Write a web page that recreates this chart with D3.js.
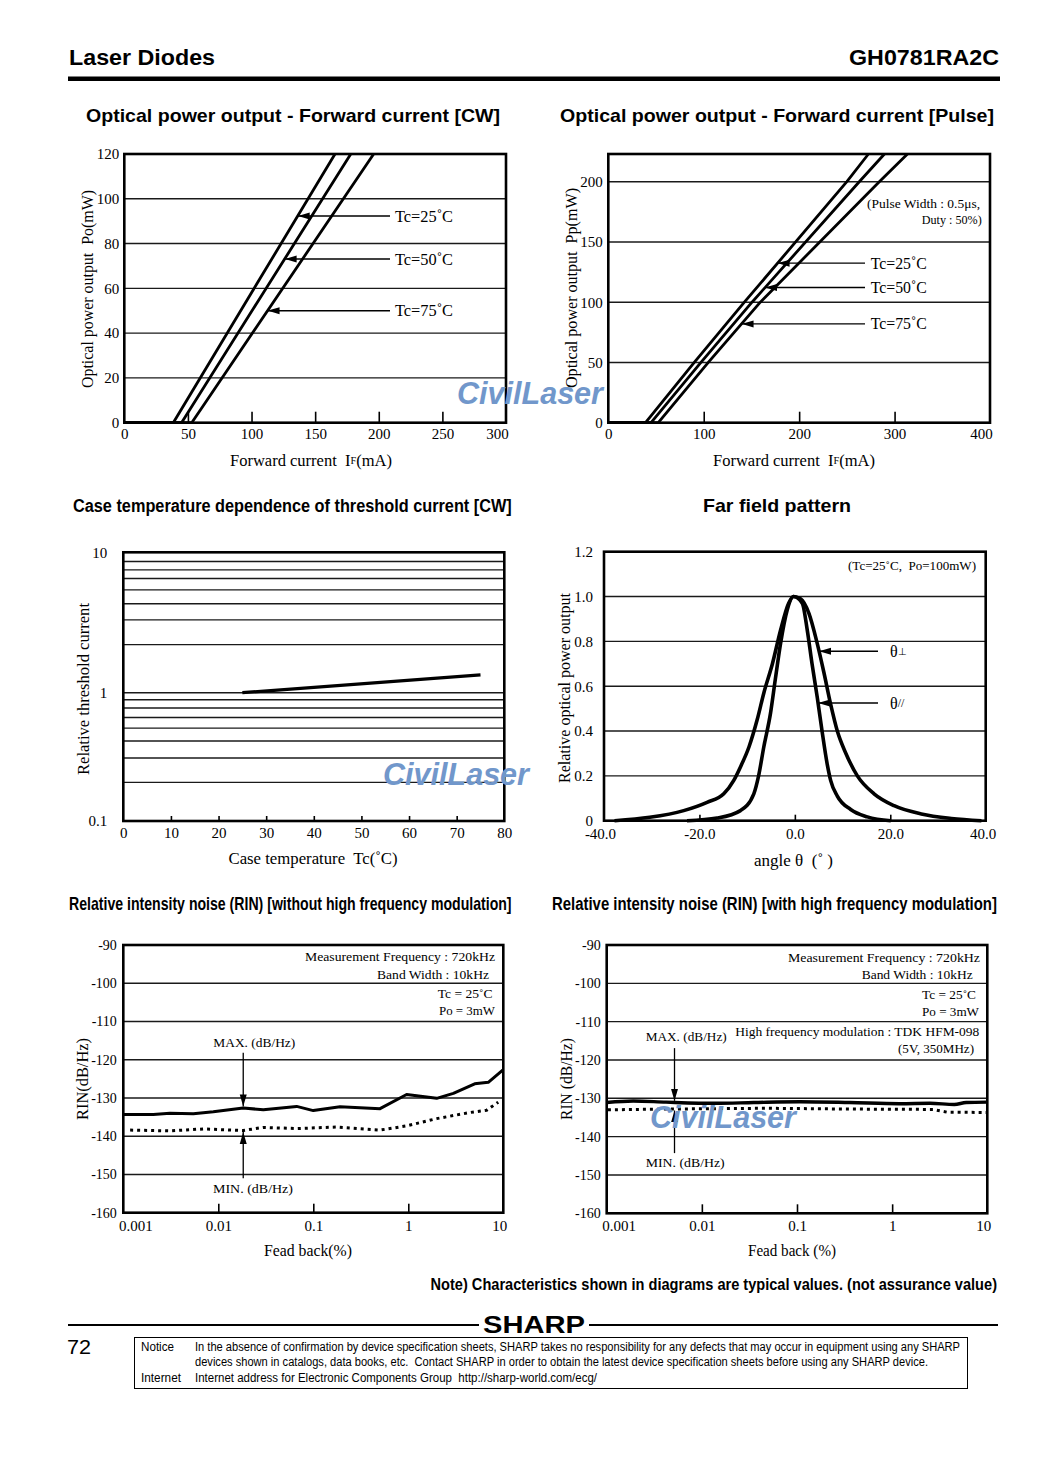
<!DOCTYPE html>
<html><head><meta charset="utf-8">
<script src="https://cdn.jsdelivr.net/npm/d3@7"></script>
<style>body{margin:0;background:#fff}svg{display:block}</style>
</head><body>
<script>
// ================= DATA =================
// Chart 1: Optical power output - Forward current [CW]
const cwCurrentTicks = [0, 50, 100, 150, 200, 250, 300];
const cwPowerTicks = [0, 20, 40, 60, 80, 100, 120];
const cwGrid = [20, 40, 60, 80, 100];
const cwLabels = ["Tc=25˚C", "Tc=50˚C", "Tc=75˚C"];
const cwIf25 = [0, 38.5, 165.6];
const cwIf50 = [0, 45, 178];
const cwIf75 = [0, 53, 196];
const cwPo = [0, 0, 120];
const cwLabelPo = [92.3, 73.1, 50.0];

// Chart 2: Optical power output - Forward current [Pulse]
const pulseCurrentTicks = [0, 100, 200, 300, 400];
const pulsePowerTicks = [0, 50, 100, 150, 200];
const pulseGrid = [50, 100, 150, 200];
const pulseLabels = ["Tc=25˚C", "Tc=50˚C", "Tc=75˚C"];
const pulseIf25 = [0, 39, 90.1, 142.6, 250, 272.6];
const pulseIf50 = [0, 44.8, 97.1, 150.6, 263, 289.4];
const pulseIf75 = [0, 52.4, 104.8, 159.3, 284, 313.5];
const pulsePo = [0, 0, 50, 100, 200, 223];
const pulseLabelPo = [132.4, 112.2, 82];

// Chart 3: Case temperature dependence of threshold current [CW]
const tempTicks = [0, 10, 20, 30, 40, 50, 60, 70, 80];
const thresholdTicks = [0.1, 1, 10];
const thresholdGrid = [0.2, 0.31, 0.42, 0.53, 0.64, 0.76, 0.88, 1, 2.2, 3.3, 4.3, 5.4, 6.5, 7.5, 8.6];
const caseTemp = [25, 75];
const relThreshold = [1.0, 1.34];

// Chart 4: Far field pattern
const angleTicks = [-40, -20, 0, 20, 40];
const relPowerTicks = [0, 0.2, 0.4, 0.6, 0.8, 1.0, 1.2];
const farGrid = [0.2, 0.4, 0.6, 0.8, 1.0];
const perpAngle = [-37.8, -30.4, -23.3, -18.4, -14.9, -12.8, -11.4, -9.6, -7.9, -6.5, -4.7, -3.0, -1.3, -0.3, 1.2, 2.95, 4.7, 6.1, 7.5, 8.9, 10.7, 13.1, 16.6, 20.8, 26.5, 32.8, 39.1];
const perpPower = [0, 0.015, 0.045, 0.082, 0.12, 0.18, 0.24, 0.33, 0.45, 0.57, 0.70, 0.85, 0.97, 1.0, 0.99, 0.925, 0.79, 0.66, 0.52, 0.40, 0.30, 0.20, 0.12, 0.067, 0.03, 0.01, 0];
const parAngle = [-22.6, -16.3, -11.4, -8.6, -7.6, -6.5, -5.1, -4.1, -3.0, -1.6, -0.3, 1.55, 2.6, 3.6, 4.7, 5.7, 6.8, 7.5, 8.9, 11.7, 15.2, 20.1];
const parPower = [0, 0.012, 0.045, 0.12, 0.20, 0.33, 0.48, 0.63, 0.79, 0.94, 1.0, 0.97, 0.85, 0.70, 0.55, 0.40, 0.25, 0.18, 0.11, 0.05, 0.017, 0];
const farLabelPower = [0.756, 0.525];

// Chart 5: RIN without HF modulation
const feedbackTicks = [0.001, 0.01, 0.1, 1, 10];
const rinTicks = [-160, -150, -140, -130, -120, -110, -100, -90];
const rinGrid = [-150, -140, -130, -120, -110, -100];
const noHfMaxFb = [0.001, 0.00207, 0.0031, 0.00546, 0.00886, 0.0183, 0.0298, 0.0668, 0.1, 0.191, 0.504, 0.96, 1.99, 2.98, 5.0, 6.95, 10];
const noHfMax = [-134.3, -134.3, -134.0, -134.1, -133.6, -132.6, -133.1, -132.2, -133.3, -132.3, -132.8, -129.1, -130.1, -128.8, -126.3, -125.9, -122.6];
const noHfMinFb = [0.00118, 0.0031, 0.00695, 0.0183, 0.0298, 0.0668, 0.176, 0.504, 0.96, 1.99, 4.46, 6.68, 8.85];
const noHfMin = [-138.4, -138.6, -138.1, -138.5, -137.7, -138.0, -137.6, -138.4, -137.3, -135.4, -133.8, -133.2, -131.1];
const noHfArrowFb = 0.0183;

// Chart 6: RIN with HF modulation
const hfMaxFb = [0.001, 0.0019, 0.0042, 0.0141, 0.035, 0.107, 0.357, 1.2, 2.5, 4.5, 6, 10];
const hfMax = [-131.1, -130.7, -131.0, -131.3, -131.1, -130.9, -131.1, -131.4, -131.3, -131.6, -131.1, -131.0];
const hfMinFb = [0.00103, 0.0042, 0.048, 0.357, 2.7, 3.74, 9.08, 10];
const hfMin = [-133.0, -132.8, -132.6, -132.8, -132.9, -133.6, -133.7, -133.7];
const hfArrowFb = 0.00516;

// ================= DRAWING =================
const SERIF = "'Liberation Serif','Times New Roman',serif";
const SANS = "'Liberation Sans',Arial,Helvetica,sans-serif";
const NARROW = "'Liberation Sans Narrow','Arial Narrow','Liberation Sans',Arial,sans-serif";
const svg = d3.select("body").append("svg").attr("width", 1061).attr("height", 1458);
svg.append("rect").attr("width", 1061).attr("height", 1458).attr("fill", "#fff");
svg.append("defs").append("marker").attr("id", "ah")
  .attr("viewBox", "0 -4 12 8").attr("refX", 12).attr("refY", 0)
  .attr("markerWidth", 12).attr("markerHeight", 8).attr("markerUnits", "userSpaceOnUse")
  .attr("orient", "auto").append("path").attr("d", "M0,-3.5L12,0L0,3.5Z").attr("fill", "#000");

function txt(p, x, y, s, o = {}) {
  const t = p.append("text").attr("x", x).attr("y", y)
    .attr("font-family", o.ff || SERIF).attr("font-size", o.fs || 15)
    .attr("text-anchor", o.anchor || "start").attr("fill", o.fill || "#000")
    .style("white-space", "pre");
  if (o.bold) t.attr("font-weight", o.bold);
  if (o.italic) t.attr("font-style", "italic");
  if (o.central) t.attr("dominant-baseline", "central");
  if (o.rot) t.attr("transform", `rotate(-90,${x},${y})`);
  if (Array.isArray(s)) s.forEach(([str, fs]) => t.append("tspan").attr("font-size", fs || null).text(str));
  else t.text(s);
  if (o.squeeze && o.len) {
    // condensed text: shrink font so its natural width fits, then stretch vertically back
    t.attr("x", 0).attr("y", 0);
    const w = t.node().getComputedTextLength();
    const fs = o.fs || 15;
    if (w > o.len) {
      const nfs = fs * o.len / w;
      t.attr("font-size", nfs).attr("transform", `translate(${x},${y}) scale(1,${fs / nfs})`);
    } else {
      t.attr("transform", `translate(${x},${y})`)
        .attr("textLength", o.len).attr("lengthAdjust", "spacingAndGlyphs");
    }
  } else if (o.len) t.attr("textLength", o.len).attr("lengthAdjust", "spacingAndGlyphs");
  return t;
}

function frame(g, P) {
  g.append("rect").attr("x", P.l).attr("y", P.t).attr("width", P.r - P.l).attr("height", P.b - P.t)
    .attr("fill", "none").attr("stroke", "#000").attr("stroke-width", 2.6);
}
function hgrid(g, P, y, vals) {
  g.append("g").selectAll("line").data(vals).join("line")
    .attr("x1", P.l).attr("x2", P.r).attr("y1", d => y(d)).attr("y2", d => y(d))
    .attr("stroke", "#1a1a1a").attr("stroke-width", 1.4);
}
function bottomAxis(g, P, x, vals, tickLen, pad, fmt, shifts) {
  const a = g.append("g").attr("transform", `translate(0,${P.b})`)
    .call(d3.axisBottom(x).tickValues(vals).tickSizeInner(-tickLen).tickSizeOuter(0).tickPadding(pad).tickFormat(fmt));
  a.select(".domain").remove();
  a.attr("font-family", null).attr("font-size", null);
  a.selectAll(".tick line").attr("stroke", "#000").attr("stroke-width", 1.6);
  a.selectAll(".tick line").filter((d, i, n) => i === 0 || i === n.length - 1).remove();
  a.selectAll(".tick text").attr("font-family", SERIF).attr("font-size", 15).attr("fill", "#000")
    .attr("dx", (d, i) => (shifts && shifts[i]) || 0);
  return a;
}
function leftAxis(g, P, y, vals, pad, fmt, fs) {
  const a = g.append("g").attr("transform", `translate(${P.l},0)`)
    .call(d3.axisLeft(y).tickValues(vals).tickSize(0).tickPadding(pad).tickFormat(fmt));
  a.select(".domain").remove();
  a.attr("font-family", null).attr("font-size", null);
  a.selectAll(".tick text").attr("font-family", SERIF).attr("font-size", fs || 15).attr("fill", "#000");
  return a;
}
function curve(g, xs, ys, x, y, w, dash, cur) {
  const line = d3.line().x(d => x(d[0])).y(d => y(d[1])).curve(cur || d3.curveLinear);
  const p = g.append("path").attr("d", line(d3.zip(xs, ys))).attr("fill", "none")
    .attr("stroke", "#000").attr("stroke-width", w).attr("stroke-linejoin", "round");
  if (dash) p.attr("stroke-dasharray", dash).attr("stroke-linecap", "butt");
  return p;
}
function arrow(g, x1, y1, x2, y2) {
  g.append("line").attr("x1", x1).attr("y1", y1).attr("x2", x2).attr("y2", y2)
    .attr("stroke", "#000").attr("stroke-width", 1.3).attr("marker-end", "url(#ah)");
}
const fmtPlain = d => String(d);

// ---------- Header ----------
txt(svg, 69, 65, "Laser Diodes", { ff: SANS, fs: 22, bold: 700, len: 146 });
txt(svg, 999, 65, "GH0781RA2C", { ff: SANS, fs: 22, bold: 700, anchor: "end", len: 150 });
svg.append("rect").attr("x", 68).attr("y", 76.5).attr("width", 932).attr("height", 4.5).attr("fill", "#000");

// titles
txt(svg, 86, 122, "Optical power output - Forward current [CW]", { ff: SANS, fs: 19, bold: 700, len: 414 });
txt(svg, 560, 122, "Optical power output - Forward current [Pulse]", { ff: SANS, fs: 19, bold: 700, len: 434 });
txt(svg, 73, 512, "Case temperature dependence of threshold current [CW]", { ff: NARROW, fs: 19, bold: 700, len: 439, squeeze: true });
txt(svg, 703, 512, "Far field pattern", { ff: SANS, fs: 19, bold: 700, len: 148 });
txt(svg, 69, 910, "Relative intensity noise (RIN) [without high frequency modulation]", { ff: NARROW, fs: 19, bold: 700, len: 443, squeeze: true });
txt(svg, 552, 910, "Relative intensity noise (RIN) [with high frequency modulation]", { ff: NARROW, fs: 19, bold: 700, len: 445, squeeze: true });

// ---------- Chart 1 ----------
{
  const P = { l: 124.3, r: 506, t: 154, b: 422.7 };
  const g = svg.append("g");
  const x = d3.scaleLinear().domain([0, 300]).range([P.l, P.r]);
  const y = d3.scaleLinear().domain([0, 120]).range([P.b, P.t]);
  hgrid(g, P, y, cwGrid);
  bottomAxis(g, P, x, cwCurrentTicks, 11, 6, fmtPlain, { 6: -9 });
  leftAxis(g, P, y, cwPowerTicks, 5, fmtPlain);
  [cwIf25, cwIf50, cwIf75].forEach(ifs => curve(g, ifs, cwPo, x, y, 2.8));
  frame(g, P);
  [cwIf25, cwIf50, cwIf75].forEach((ifs, i) => {
    const inv = d3.scaleLinear().domain(cwPo.slice(1)).range(ifs.slice(1));
    const yy = y(cwLabelPo[i]);
    arrow(g, 390, yy, x(inv(cwLabelPo[i])), yy);
    txt(g, 395, yy, cwLabels[i], { fs: 16, central: true, len: 58 });
  });
  txt(g, 311, 460, [["Forward current  I"], ["F", 10], ["(mA)"]], { fs: 16, anchor: "middle", central: true, len: 162 });
  txt(g, 87, 289, "Optical power output  Po(mW)", { fs: 16, anchor: "middle", central: true, rot: true, len: 198 });
}

// ---------- Chart 2 ----------
{
  const P = { l: 608.3, r: 990, t: 154, b: 422.7 };
  const g = svg.append("g");
  const x = d3.scaleLinear().domain([0, 400]).range([P.l, P.r]);
  const y = d3.scaleLinear().domain([0, 223]).range([P.b, P.t]);
  hgrid(g, P, y, pulseGrid);
  bottomAxis(g, P, x, pulseCurrentTicks, 11, 6, fmtPlain, { 4: -9 });
  leftAxis(g, P, y, pulsePowerTicks, 5.5, fmtPlain);
  [pulseIf25, pulseIf50, pulseIf75].forEach(ifs => curve(g, ifs, pulsePo, x, y, 2.8));
  frame(g, P);
  [pulseIf25, pulseIf50, pulseIf75].forEach((ifs, i) => {
    const inv = d3.scaleLinear().domain(pulsePo.slice(1)).range(ifs.slice(1));
    const yy = y(pulseLabelPo[i]);
    arrow(g, 865, yy, x(inv(pulseLabelPo[i])), yy);
    txt(g, 870.7, yy, pulseLabels[i], { fs: 16, central: true, len: 56 });
  });
  txt(g, 980, 203, "(Pulse Width : 0.5μs,", { fs: 13.5, anchor: "end", central: true, len: 113 });
  txt(g, 981.7, 219, "Duty : 50%)", { fs: 13.5, anchor: "end", central: true, len: 60 });
  txt(g, 794, 460, [["Forward current  I"], ["F", 10], ["(mA)"]], { fs: 16, anchor: "middle", central: true, len: 162 });
  txt(g, 571.7, 288, "Optical power output  Pp(mW)", { fs: 16, anchor: "middle", central: true, rot: true, len: 200 });
}

// ---------- Chart 3 ----------
{
  const P = { l: 123.3, r: 504.3, t: 552.3, b: 821 };
  const g = svg.append("g");
  const x = d3.scaleLinear().domain([0, 80]).range([P.l, P.r]);
  const y = d3.scaleLog().domain([0.1, 1, 10]).range([P.b, 692.7, P.t]);
  hgrid(g, P, y, thresholdGrid);
  bottomAxis(g, P, x, tempTicks, 5, 6.5, fmtPlain);
  leftAxis(g, P, y, thresholdTicks, 16, fmtPlain);
  curve(g, caseTemp, relThreshold, x, y, 3.2);
  frame(g, P);
  txt(g, 313, 858, "Case temperature  Tc(˚C)", { fs: 16, anchor: "middle", central: true, len: 169 });
  txt(g, 83, 689, "Relative threshold current", { fs: 16, anchor: "middle", central: true, rot: true, len: 172 });
}

// ---------- Chart 4 ----------
{
  const P = { l: 604, r: 985.7, t: 551.7, b: 820.7 };
  const g = svg.append("g");
  const x = d3.scaleLinear().domain([-40, 40]).range([P.l, P.r]);
  const y = d3.scaleLinear().domain([0, 1.2]).range([P.b, P.t]);
  hgrid(g, P, y, farGrid);
  bottomAxis(g, P, x, angleTicks, 6, 8, d => d.toFixed(1), { 0: -4, 4: -3 });
  leftAxis(g, P, y, relPowerTicks, 11, d => d === 0 ? "0" : d.toFixed(1));
  curve(g, perpAngle, perpPower, x, y, 3.6, null, d3.curveMonotoneX);
  curve(g, parAngle, parPower, x, y, 3.6, null, d3.curveMonotoneX);
  frame(g, P);
  [[perpAngle, perpPower], [parAngle, parPower]].forEach(([a, p], i) => {
    const k = p.indexOf(d3.max(p));
    const inv = d3.scaleLinear().domain(p.slice(k)).range(a.slice(k));
    const yy = y(farLabelPower[i]);
    arrow(g, 878, yy, x(inv(farLabelPower[i])), yy);
  });
  txt(g, 890, y(farLabelPower[0]), [["θ"], ["⊥", 10]], { fs: 16, central: true });
  txt(g, 890, y(farLabelPower[1]), [["θ"], ["//", 12]], { fs: 16, central: true });
  txt(g, 976, 565, "(Tc=25˚C,  Po=100mW)", { fs: 13.5, anchor: "end", central: true, len: 128 });
  txt(g, 793.5, 860, "angle θ  (˚ )", { fs: 16, anchor: "middle", central: true, len: 79 });
  txt(g, 564, 688, "Relative optical power output", { fs: 16, anchor: "middle", central: true, rot: true, len: 190 });
}

// ---------- Chart 5 ----------
{
  const P = { l: 123.3, r: 503.3, t: 945, b: 1212.7 };
  const g = svg.append("g");
  const x = d3.scaleLog().domain([0.001, 10]).range([P.l, P.r]);
  const y = d3.scaleLinear().domain([-160, -90]).range([P.b, P.t]);
  hgrid(g, P, y, rinGrid);
  bottomAxis(g, P, x, feedbackTicks, 9, 8, fmtPlain, { 0: 12, 4: -4 });
  leftAxis(g, P, y, rinTicks, 6.5, fmtPlain, 14);
  curve(g, noHfMaxFb, noHfMax, x, y, 3);
  curve(g, noHfMinFb, noHfMin, x, y, 3, "3,4");
  frame(g, P);
  const maxAt = d3.scaleLog().domain(noHfMaxFb).range(noHfMax)(noHfArrowFb);
  const minAt = d3.scaleLog().domain(noHfMinFb).range(noHfMin)(noHfArrowFb);
  arrow(g, x(noHfArrowFb), y(-118.2), x(noHfArrowFb), y(maxAt) - 1.5);
  arrow(g, x(noHfArrowFb), y(-151.0), x(noHfArrowFb), y(minAt) + 1.5);
  txt(g, 213.3, 1042.7, "MAX. (dB/Hz)", { fs: 13.5, central: true, len: 82 });
  txt(g, 213, 1188.3, "MIN. (dB/Hz)", { fs: 13.5, central: true, len: 80 });
  txt(g, 495, 956.7, "Measurement Frequency : 720kHz", { fs: 13.5, anchor: "end", central: true, len: 190 });
  txt(g, 489, 974.3, "Band Width : 10kHz", { fs: 13.5, anchor: "end", central: true, len: 112 });
  txt(g, 492.7, 993.3, "Tc = 25˚C", { fs: 13.5, anchor: "end", central: true, len: 55 });
  txt(g, 495, 1010, "Po = 3mW", { fs: 13.5, anchor: "end", central: true, len: 56 });
  txt(g, 308, 1250.7, "Fead back(%)", { fs: 16, anchor: "middle", central: true, len: 88 });
  txt(g, 82, 1079, "RIN(dB/Hz)", { fs: 16, anchor: "middle", central: true, rot: true, len: 82 });
}

// ---------- Chart 6 ----------
{
  const P = { l: 606.7, r: 987.3, t: 945, b: 1213.3 };
  const g = svg.append("g");
  const x = d3.scaleLog().domain([0.001, 10]).range([P.l, P.r]);
  const y = d3.scaleLinear().domain([-160, -90]).range([P.b, P.t]);
  hgrid(g, P, y, rinGrid);
  bottomAxis(g, P, x, feedbackTicks, 9, 7, fmtPlain, { 0: 12, 4: -4 });
  leftAxis(g, P, y, rinTicks, 6, fmtPlain, 14);
  curve(g, hfMaxFb, hfMax, x, y, 3.4, null, d3.curveMonotoneX);
  curve(g, hfMinFb, hfMin, x, y, 3, "3,4");
  frame(g, P);
  const maxAt = d3.scaleLog().domain(hfMaxFb).range(hfMax)(hfArrowFb);
  const minAt = d3.scaleLog().domain(hfMinFb).range(hfMin)(hfArrowFb);
  arrow(g, x(hfArrowFb), y(-116.9), x(hfArrowFb), y(maxAt) - 1.5);
  arrow(g, x(hfArrowFb), y(-144.3), x(hfArrowFb), y(minAt) + 1.5);
  txt(g, 645.7, 1036.7, "MAX. (dB/Hz)", { fs: 13.5, central: true, len: 81 });
  txt(g, 645.7, 1162.3, "MIN. (dB/Hz)", { fs: 13.5, central: true, len: 79 });
  txt(g, 980, 957.3, "Measurement Frequency : 720kHz", { fs: 13.5, anchor: "end", central: true, len: 192 });
  txt(g, 972.7, 974.3, "Band Width : 10kHz", { fs: 13.5, anchor: "end", central: true, len: 111 });
  txt(g, 976, 994, "Tc = 25˚C", { fs: 13.5, anchor: "end", central: true, len: 54 });
  txt(g, 979, 1011.7, "Po = 3mW", { fs: 13.5, anchor: "end", central: true, len: 57 });
  txt(g, 979.3, 1031, "High frequency modulation : TDK HFM-098", { fs: 13.5, anchor: "end", central: true, len: 244 });
  txt(g, 974, 1048.3, "(5V, 350MHz)", { fs: 13.5, anchor: "end", central: true, len: 76 });
  txt(g, 792, 1250.7, "Fead back (%)", { fs: 16, anchor: "middle", central: true, len: 88 });
  txt(g, 566, 1079, "RIN (dB/Hz)", { fs: 16, anchor: "middle", central: true, rot: true, len: 82 });
}

// ---------- Watermarks ----------
[[457, 393], [383, 774], [650, 1117]].forEach(([wx, wy]) => {
  txt(svg, wx, wy + 11, "CivilLaser", { ff: SANS, fs: 31, bold: 700, italic: true, fill: "#7197cb", len: 146 });
});

// ---------- Footer ----------
txt(svg, 997, 1290, "Note) Characteristics shown in diagrams are typical values. (not assurance value)", { ff: NARROW, fs: 17, bold: 700, anchor: "end", len: 567, squeeze: true });
svg.append("rect").attr("x", 68).attr("y", 1324).attr("width", 411).attr("height", 2).attr("fill", "#000");
svg.append("rect").attr("x", 589).attr("y", 1324).attr("width", 409).attr("height", 2).attr("fill", "#000");
txt(svg, 534, 1333, "SHARP", { ff: SANS, fs: 23, bold: 900, anchor: "middle", len: 102 });
txt(svg, 67, 1354, "72", { ff: SANS, fs: 20, len: 24 });
svg.append("rect").attr("x", 134.5).attr("y", 1337.5).attr("width", 833).attr("height", 51)
  .attr("fill", "none").attr("stroke", "#000").attr("stroke-width", 1);
txt(svg, 141, 1351, "Notice", { ff: NARROW, fs: 12, len: 33 });
txt(svg, 195, 1351, "In the absence of confirmation by device specification sheets, SHARP takes no responsibility for any defects that may occur in equipment using any SHARP", { ff: NARROW, fs: 12, len: 765 });
txt(svg, 195, 1366, "devices shown in catalogs, data books, etc.  Contact SHARP in order to obtain the latest device specification sheets before using any SHARP device.", { ff: NARROW, fs: 12, len: 733 });
txt(svg, 141, 1382, "Internet", { ff: NARROW, fs: 12, len: 40 });
txt(svg, 195, 1382, "Internet address for Electronic Components Group  http://sharp-world.com/ecg/", { ff: NARROW, fs: 12, len: 402 });
</script>
</body></html>
